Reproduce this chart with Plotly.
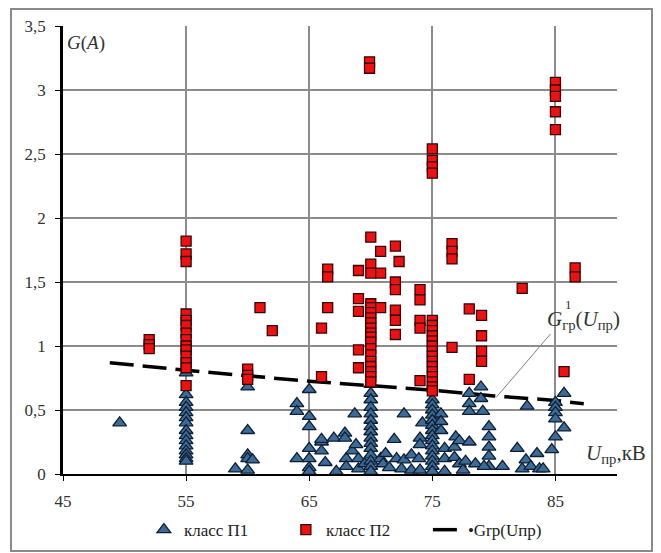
import plotly.graph_objects as go

# ---- data ----
# class П1 (triangles)
p1_x = [49.6,
        55, 55, 55, 55, 55, 55, 55, 55, 55, 55, 55, 55, 55, 55, 55,
        59.0, 60.0, 60.0, 60.0, 60.0, 60.0, 60.4,
        64.0, 64.0, 64.0,
        65.0, 65.0, 65.0, 65.0, 65.0, 65.0, 65.0,
        66.0, 66.0, 66.0, 66.3, 67.0, 67.2, 67.9, 67.9, 68.0, 68.0, 68.5,
        68.7, 68.8, 69.0, 69.0, 69.5,
        70, 70, 70, 70, 70, 70, 70, 70, 70, 70, 70, 70, 70, 70, 70,
        70.8, 71.0, 71.2, 71.5, 71.9, 72.1, 72.5, 72.7, 72.7, 73.3, 73.3, 73.9,
        74.0, 74.0, 74.0, 74.2,
        75, 75, 75, 75, 75, 75, 75, 75, 75, 75, 75, 75, 75, 75, 75,
        75.7, 75.7, 75.7, 76.0, 76.0, 76.0, 76.8, 76.8, 76.9, 77.2, 77.2, 77.5, 77.7,
        78.0, 78.0, 78.0, 78.0, 78.5, 78.95, 78.95, 79.1,
        79.6, 79.6, 79.6, 79.6, 79.6, 79.2, 80.7,
        81.9, 82.3, 82.6, 82.7, 83.0, 83.5, 83.7, 84.0, 84.7,
        85, 85, 85, 85, 85, 85.7, 85.7]
p1_y = [0.40,
        0.79, 0.62, 0.56, 0.52, 0.48, 0.44, 0.40, 0.34, 0.30, 0.26, 0.22, 0.18, 0.15, 0.12, 0.10,
        0.04, 0.68, 0.34, 0.15, 0.12, 0.03, 0.11,
        0.55, 0.49, 0.12,
        0.66, 0.45, 0.37, 0.20, 0.12, 0.05, 0.02,
        0.25, 0.18, 0.27, 0.09, 0.28, 0.02, 0.32, 0.28, 0.12, 0.06, 0.18,
        0.47, 0.23, 0.12, 0.04, 0.08,
        0.70, 0.63, 0.58, 0.52, 0.47, 0.42, 0.37, 0.33, 0.28, 0.24, 0.20, 0.15, 0.10, 0.06, 0.02,
        0.12, 0.08, 0.16, 0.05, 0.27, 0.12, 0.04, 0.47, 0.11, 0.15, 0.03, 0.12,
        0.28, 0.23, 0.03, 0.40,
        0.58, 0.54, 0.50, 0.46, 0.42, 0.38, 0.34, 0.30, 0.26, 0.22, 0.18, 0.14, 0.10, 0.06, 0.02,
        0.47, 0.41, 0.34, 0.20, 0.12, 0.02, 0.21, 0.13, 0.29, 0.26, 0.08, 0.03, 0.10,
        0.63, 0.55, 0.49, 0.25, 0.08, 0.68, 0.59, 0.49,
        0.37, 0.29, 0.21, 0.14, 0.06, 0.06, 0.06,
        0.20, 0.04, 0.11, 0.53, 0.06, 0.16, 0.04, 0.04, 0.19,
        0.56, 0.52, 0.48, 0.43, 0.29, 0.63, 0.36]

# class П2 (squares)
p2_x = [52.0, 52.0, 52.0,
        55, 55, 55, 55, 55, 55, 55, 55, 55, 55, 55, 55, 55, 55,
        60, 60, 60, 61, 62,
        66.0, 66.0, 66.5, 66.5, 66.5,
        69.0, 69.0, 69.0, 69.0, 69.0,
        69.9, 69.9,
        70, 70, 70, 70, 70, 70, 70, 70, 70, 70, 70, 70, 70, 70, 70, 70, 70, 70, 70,
        70.8, 70.8, 70.8,
        72.0, 72.0, 72.0, 72.0, 72.0, 72.0, 72.3,
        74.0, 74.0, 74.0, 74.0, 74.0,
        75, 75, 75, 75, 75, 75, 75, 75, 75, 75, 75, 75, 75, 75, 75, 75, 75, 75, 75,
        76.6, 76.6, 76.6, 76.6,
        78.0, 78.0, 79.0, 79.0, 79.0, 79.0,
        82.3,
        85, 85, 85, 85, 85, 85.7, 86.6, 86.6]
p2_y = [1.05, 1.01, 0.98,
        1.82, 1.72, 1.66, 1.25, 1.20, 1.16, 1.10, 1.05, 1.00, 0.97, 0.92, 0.87, 0.83, 0.69,
        0.82, 0.77, 0.74, 1.30, 1.12,
        1.14, 0.76, 1.60, 1.54, 1.30,
        1.59, 1.37, 1.27, 0.97, 0.83,
        3.22, 3.17,
        1.85, 1.64, 1.57, 1.33, 1.30, 1.26, 1.22, 1.18, 1.14, 1.10, 1.07, 1.03, 0.98, 0.93, 0.88, 0.84, 0.80, 0.76, 0.72,
        1.74, 1.57, 1.30,
        1.78, 1.50, 1.44, 1.28, 1.20, 1.09, 1.66,
        1.44, 1.36, 1.20, 1.14, 0.73,
        2.54, 2.45, 2.40, 2.35, 1.20, 1.16, 1.12, 1.08, 1.04, 1.00, 0.96, 0.92, 0.88, 0.84, 0.80, 0.76, 0.72, 0.68, 0.65,
        1.80, 1.74, 1.68, 0.99,
        1.29, 0.74, 1.24, 1.08, 0.96, 0.88,
        1.45,
        3.06, 3.00, 2.95, 2.83, 2.69, 0.80, 1.61, 1.54]

# boundary curve Grp(Uпр)
trend_x = [48.8, 55, 62, 65, 75, 80, 85, 87.3]
trend_y = [0.87, 0.81, 0.75, 0.725, 0.655, 0.61, 0.575, 0.548]

x_ticks = [45, 55, 65, 75, 85]
y_ticks = [0, 0.5, 1, 1.5, 2, 2.5, 3, 3.5]

SERIF = "Liberation Serif"
TXT = "#333333"

fig = go.Figure()
fig.add_trace(go.Scatter(
    x=trend_x, y=trend_y, mode="lines", name="•Grp(Uпр)", legendrank=3,
    line=dict(color="black", width=3.5, dash="24px,9px")))
fig.add_trace(go.Scatter(
    x=p1_x, y=p1_y, mode="markers", name="класс П1", legendrank=1,
    marker=dict(symbol="triangle-up", size=12, color="#3d6b98",
                line=dict(color="#0d1f33", width=1.3))))
fig.add_trace(go.Scatter(
    x=p2_x, y=p2_y, mode="markers", name="класс П2", legendrank=2,
    marker=dict(symbol="square", size=10, color="#ee1111",
                line=dict(color="#3a0505", width=1.3))))

fig.update_layout(
    width=653, height=545,
    margin=dict(l=55, r=44, t=18, b=79, autoexpand=False),
    plot_bgcolor="white", paper_bgcolor="white",
    separators=", ",
    font=dict(family=SERIF, size=17, color=TXT),
    showlegend=True,
    legend=dict(orientation="h", xref="paper", x=0.146, xanchor="left",
                yref="container", y=0.042, yanchor="middle",
                entrywidth=97, entrywidthmode="pixels",
                font=dict(family=SERIF, size=17, color="#222222"),
                bgcolor="rgba(0,0,0,0)"),
    xaxis=dict(range=[45, 90], tickvals=x_ticks, showgrid=True, gridcolor="#8c8c8c",
               gridwidth=1.5, showline=True, linecolor="black", linewidth=2,
               ticks="outside", ticklen=5, tickcolor="black", zeroline=False,
               ticklabelstandoff=6, tickfont=dict(family=SERIF, size=17, color=TXT)),
    yaxis=dict(range=[0, 3.5], tickvals=y_ticks, showgrid=True, gridcolor="#8c8c8c",
               gridwidth=1.5, showline=True, linecolor="black", linewidth=2.5,
               ticks="outside", ticklen=5, tickcolor="black", zeroline=False,
               ticklabelstandoff=6, tickfont=dict(family=SERIF, size=17, color=TXT)),
)

# outer frame
fig.add_shape(type="rect", xref="paper", yref="paper",
              x0=-0.0939, x1=1.0632, y0=-0.172, y1=1.038,
              line=dict(color="#8a8a8a", width=2), layer="below")
# leader line for the curve label
fig.add_shape(type="line", xref="x", yref="y", x0=84.6, y0=1.094, x1=80.2, y1=0.60,
              line=dict(color="#808080", width=1))

fig.add_annotation(xref="paper", yref="paper", x=0.004, y=0.962, xanchor="left",
                   yanchor="middle", showarrow=False,
                   text="<i>G</i>(<i>A</i>)",
                   font=dict(family=SERIF, size=19, color=TXT))
fig.add_annotation(xref="paper", yref="paper", x=0.94, y=0.045, xanchor="left",
                   yanchor="middle", showarrow=False,
                   text="<i>U</i><sub>пр</sub>,кВ",
                   font=dict(family=SERIF, size=21, color=TXT))
fig.add_annotation(xref="paper", yref="paper", x=0.87, y=0.343, xanchor="left",
                   yanchor="middle", showarrow=False,
                   text="<i>G</i><sub>гр</sub>(<i>U</i><sub>пр</sub>)",
                   font=dict(family=SERIF, size=21, color=TXT))
fig.add_annotation(xref="paper", yref="paper", x=0.903, y=0.378, xanchor="left",
                   yanchor="middle", showarrow=False, text="1",
                   font=dict(family=SERIF, size=13, color=TXT))

fig.write_html("out.html")
